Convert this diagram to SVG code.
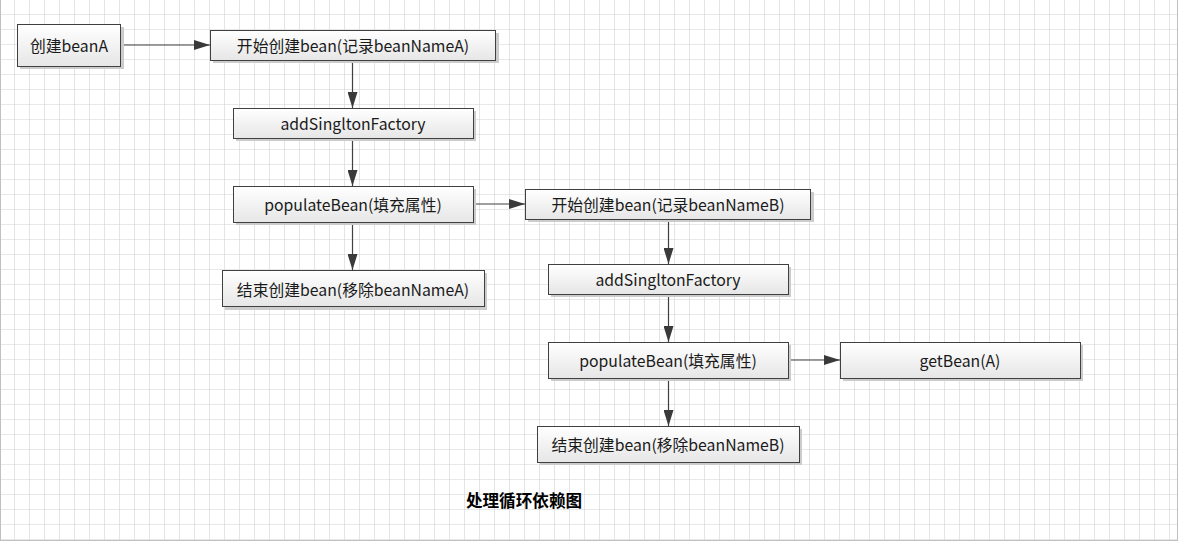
<svg xmlns="http://www.w3.org/2000/svg" width="1180" height="542" viewBox="0 0 1180 542">
<defs>
<pattern id="grid" width="15" height="15" patternUnits="userSpaceOnUse">
<path d="M15 0V15M0 15H15" fill="none" stroke="#d2d2d2" stroke-width="1.2"/>
</pattern>
<linearGradient id="fill" x1="0" y1="0" x2="0" y2="1">
<stop offset="0" stop-color="#ffffff"/>
<stop offset="1" stop-color="#e6e6e6"/>
</linearGradient>
<marker id="arr" viewBox="0 0 16 10" refX="16" refY="5" markerWidth="16" markerHeight="10" markerUnits="userSpaceOnUse" orient="auto">
<path d="M0 0L16 5L0 10Z" fill="#3a3a3a"/>
</marker>
<style>
.box{fill:url(#fill);stroke:#404040;stroke-width:1}
.sh{fill:#cccccc}
.t{font-family:"Microsoft YaHei","Noto Sans CJK SC",sans-serif;font-size:15.8px;fill:#1a1a1a;text-anchor:middle;dominant-baseline:central}
.c{stroke:#404040;stroke-width:1.2;fill:none;marker-end:url(#arr)}
</style>
</defs>
<rect x="0" y="0" width="1180" height="542" fill="#ffffff"/>
<rect x="0" y="0" width="1178" height="541" fill="url(#grid)"/>
<path d="M0.5 0V541M1177.5 0V541M0 540.5H1178" stroke="#c0c0c0" stroke-width="1"/>
<g id="connectors">
<path class="c" d="M121 45H210"/>
<path class="c" d="M352.5 60V108"/>
<path class="c" d="M352.5 138V186"/>
<path class="c" d="M352.5 222V270"/>
<path class="c" d="M473 204H525"/>
<path class="c" d="M668.5 219V264"/>
<path class="c" d="M668.5 294V342"/>
<path class="c" d="M668.5 378V426"/>
<path class="c" d="M788 360H840"/>
</g>
<g id="n1"><rect class="sh" x="20" y="27" width="104" height="42"/><rect class="box" x="17.5" y="24.5" width="103" height="42"/><text class="t" x="69" y="45">创建beanA</text></g>
<g id="n2"><rect class="sh" x="213" y="33" width="286" height="30"/><rect class="box" x="210.5" y="30.5" width="285" height="30"/><text class="t" x="353" y="45">开始创建bean(记录beanNameA)</text></g>
<g id="n3"><rect class="sh" x="236" y="111" width="240" height="30"/><rect class="box" x="233.5" y="108.5" width="240" height="30"/><text class="t" x="353" y="123">addSingltonFactory</text></g>
<g id="n4"><rect class="sh" x="236" y="189" width="240" height="36"/><rect class="box" x="233.5" y="186.5" width="240" height="36"/><text class="t" x="353" y="204">populateBean(填充属性)</text></g>
<g id="n5"><rect class="sh" x="225" y="273" width="262" height="37"/><rect class="box" x="222.5" y="270.5" width="262" height="36"/><text class="t" x="353" y="289">结束创建bean(移除beanNameA)</text></g>
<g id="n6"><rect class="sh" x="528" y="192" width="286" height="30"/><rect class="box" x="525.5" y="189.5" width="285" height="30"/><text class="t" x="668" y="204">开始创建bean(记录beanNameB)</text></g>
<g id="n7"><rect class="sh" x="551" y="267" width="240" height="30"/><rect class="box" x="548.5" y="264.5" width="240" height="30"/><text class="t" x="668" y="279">addSingltonFactory</text></g>
<g id="n8"><rect class="sh" x="551" y="345" width="240" height="36"/><rect class="box" x="548.5" y="342.5" width="240" height="36"/><text class="t" x="668" y="360">populateBean(填充属性)</text></g>
<g id="n9"><rect class="sh" x="843" y="345" width="240" height="36"/><rect class="box" x="840.5" y="342.5" width="240" height="36"/><text class="t" x="960" y="360">getBean(A)</text></g>
<g id="n10"><rect class="sh" x="540" y="429" width="262" height="36"/><rect class="box" x="537.5" y="426.5" width="262" height="36"/><text class="t" x="668" y="444">结束创建bean(移除beanNameB)</text></g>
<text x="524" y="500" font-family="'Noto Sans CJK SC',sans-serif" font-size="16.6" font-weight="bold" fill="#000" text-anchor="middle" dominant-baseline="central">处理循环依赖图</text>
</svg>
